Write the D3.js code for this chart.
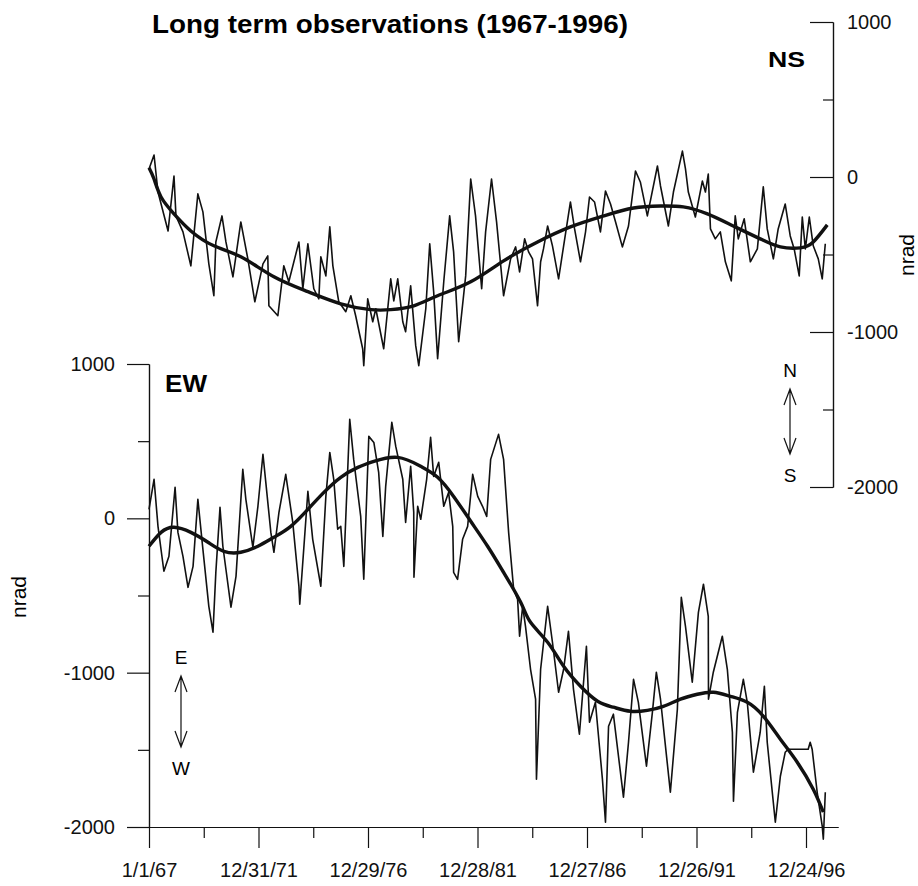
<!DOCTYPE html>
<html>
<head>
<meta charset="utf-8">
<script src="https://cdn.jsdelivr.net/npm/d3@7"></script>
<style>
  body { margin: 0; background: #fff; }
  svg { display: block; font-family: "Liberation Sans", Arial, sans-serif; }
  .axis path, .axis line { stroke: #111; stroke-width: 1.2; }
  .axis text { font-size: 20px; fill: #111; font-family: "Liberation Sans", Arial, sans-serif; }
  .raw { fill: none; stroke: #111; stroke-width: 1.6; stroke-linejoin: round; }
  .trend { fill: none; stroke: #111; stroke-width: 3.4; }
</style>
</head>
<body>
<svg width="918" height="886"></svg>
<script>
// NS tilt, raw record: [decimal year, nrad]
const nsRaw = [
  [1967.00,52],[1967.23,142],[1967.41,-97],[1967.87,-348],[1968.14,6],[1968.23,-251],[1968.55,-354],[1968.91,-573],
  [1969.23,-109],[1969.46,-225],[1969.73,-560],[1969.96,-766],[1970.05,-419],[1970.33,-251],[1970.51,-419],[1970.83,-644],
  [1971.19,-290],[1971.51,-528],[1971.83,-805],[1972.20,-560],[1972.42,-509],[1972.47,-831],[1972.88,-895],[1973.15,-573],
  [1973.38,-676],[1973.84,-419],[1974.02,-721],[1974.25,-431],[1974.52,-721],[1974.75,-786],[1974.84,-515],[1975.07,-638],
  [1975.25,-322],[1975.39,-573],[1975.66,-805],[1975.98,-869],[1976.21,-766],[1976.43,-895],[1976.75,-1108],[1976.80,-1217],
  [1976.98,-786],[1977.21,-934],[1977.35,-850],[1977.71,-1108],[1978.03,-657],[1978.17,-799],[1978.35,-657],[1978.58,-934],
  [1978.71,-998],[1978.94,-702],[1979.17,-1088],[1979.31,-1217],[1979.63,-850],[1979.81,-431],[1979.99,-741],[1980.17,-1172],
  [1980.45,-676],[1980.72,-251],[1980.90,-483],[1981.13,-1063],[1981.45,-638],[1981.68,-13],[1981.90,-251],[1982.18,-721],
  [1982.36,-354],[1982.63,-13],[1982.86,-290],[1983.18,-766],[1983.50,-528],[1983.73,-451],[1983.91,-612],[1984.14,-399],
  [1984.32,-483],[1984.50,-528],[1984.73,-831],[1984.87,-547],[1985.00,-464],[1985.19,-316],[1985.41,-444],[1985.69,-657],
  [1985.92,-444],[1986.23,-161],[1986.42,-335],[1986.69,-547],[1986.92,-354],[1987.10,-129],[1987.33,-161],[1987.60,-354],
  [1987.83,-90],[1988.06,-174],[1988.29,-290],[1988.60,-451],[1988.88,-316],[1989.20,39],[1989.42,-32],[1989.74,-251],
  [1990.20,71],[1990.34,-58],[1990.70,-316],[1990.93,-97],[1991.34,167],[1991.48,52],[1991.61,-97],[1991.93,-258],
  [1992.25,-26],[1992.39,-97],[1992.52,19],[1992.62,-335],[1992.84,-399],[1993.07,-354],[1993.30,-547],[1993.57,-670],
  [1993.75,-251],[1993.89,-399],[1994.16,-270],[1994.44,-547],[1994.76,-464],[1995.03,-64],[1995.21,-335],[1995.49,-528],
  [1995.71,-335],[1996.03,-174],[1996.26,-380],[1996.44,-464],[1996.67,-638],[1996.81,-258],[1996.95,-464],[1997.13,-258],
  [1997.31,-444],[1997.54,-528],[1997.72,-657],[1997.86,-431]
];

// NS tilt, smoothed trend
const nsTrend = [
  [1967.00,60],[1967.23,-13],[1967.55,-129],[1968.14,-238],[1968.91,-348],[1969.96,-444],[1971.19,-515],[1972.70,-644],
  [1974.25,-740],[1975.75,-818],[1977.12,-856],[1978.03,-856],[1979.08,-831],[1980.17,-766],[1981.68,-676],[1983.18,-541],
  [1984.73,-419],[1986.23,-322],[1987.74,-251],[1989.11,-200],[1990.34,-187],[1991.38,-193],[1992.48,-238],[1993.66,-316],
  [1994.89,-399],[1995.81,-451],[1996.72,-457],[1997.31,-419],[1997.95,-309]
];

// EW tilt, raw record
const ewRaw = [
  [1967.00,58],[1967.23,253],[1967.41,-52],[1967.68,-343],[1967.91,-246],[1968.19,201],[1968.32,-91],[1968.55,-246],
  [1968.78,-447],[1969.01,-311],[1969.23,123],[1969.46,-201],[1969.73,-570],[1969.92,-738],[1970.05,-350],[1970.24,71],
  [1970.37,-181],[1970.51,-330],[1970.74,-576],[1970.97,-376],[1971.28,317],[1971.42,123],[1971.74,-188],[1971.97,78],
  [1972.20,415],[1972.33,233],[1972.56,-91],[1972.70,-220],[1972.93,39],[1973.24,285],[1973.56,-26],[1973.84,-440],
  [1973.88,-557],[1974.25,175],[1974.47,-136],[1974.84,-440],[1975.07,142],[1975.25,427],[1975.43,253],[1975.61,-71],
  [1975.75,-52],[1975.89,-311],[1976.16,641],[1976.34,382],[1976.66,13],[1976.80,-395],[1977.03,531],[1977.26,492],
  [1977.48,298],[1977.67,-117],[1977.80,207],[1978.08,622],[1978.26,466],[1978.58,253],[1978.71,-26],[1978.94,337],
  [1979.08,39],[1979.09,-382],[1979.26,78],[1979.40,-6],[1979.67,253],[1979.85,525],[1979.99,272],[1980.22,363],
  [1980.45,78],[1980.67,168],[1980.86,-52],[1980.90,-350],[1981.08,-395],[1981.31,-136],[1981.54,-52],[1981.77,285],
  [1982.00,142],[1982.22,78],[1982.41,13],[1982.59,382],[1982.95,544],[1983.18,382],[1983.41,-91],[1983.64,-460],
  [1983.82,-525],[1983.91,-764],[1984.05,-570],[1984.18,-700],[1984.41,-978],[1984.64,-1172],[1984.68,-1690],[1984.87,-978],
  [1985.19,-570],[1985.41,-803],[1985.69,-1127],[1985.92,-978],[1986.14,-732],[1986.37,-1108],[1986.64,-1399],[1986.96,-829],
  [1987.10,-1321],[1987.37,-1192],[1987.69,-1690],[1987.83,-1969],[1987.97,-1347],[1988.19,-1269],[1988.65,-1807],[1988.88,-1451],
  [1989.11,-1043],[1989.33,-1192],[1989.70,-1606],[1989.97,-1257],[1990.15,-997],[1990.34,-1172],[1990.79,-1775],[1991.11,-1237],
  [1991.29,-512],[1991.48,-700],[1991.79,-1062],[1992.07,-609],[1992.30,-427],[1992.52,-635],[1992.53,-1172],[1992.75,-997],
  [1993.16,-764],[1993.39,-978],[1993.62,-1386],[1993.67,-1833],[1993.85,-1257],[1994.12,-1043],[1994.30,-1192],[1994.58,-1645],
  [1994.89,-1386],[1995.08,-1088],[1995.21,-1451],[1995.58,-1969],[1995.81,-1671],[1996.03,-1516],[1996.17,-1496],[1997.08,-1496],
  [1997.17,-1451],[1997.26,-1496],[1997.49,-1775],[1997.72,-1995],[1997.77,-2079],[1997.86,-1775]
];

// EW tilt, smoothed trend
const ewTrend = [
  [1967.00,-181],[1967.55,-91],[1968.14,-58],[1968.91,-91],[1969.69,-155],[1970.42,-214],[1971.19,-220],[1971.97,-181],
  [1972.70,-123],[1973.47,-52],[1974.25,58],[1974.98,168],[1975.75,266],[1976.53,330],[1977.26,369],[1978.35,395],
  [1979.40,337],[1980.17,266],[1980.90,142],[1981.68,-19],[1982.45,-181],[1983.18,-350],[1983.96,-544],[1984.41,-674],
  [1985.19,-803],[1985.92,-959],[1986.69,-1088],[1987.47,-1185],[1988.19,-1224],[1988.97,-1250],[1989.74,-1244],[1990.47,-1218],
  [1991.25,-1172],[1992.02,-1140],[1992.75,-1127],[1993.53,-1153],[1994.30,-1192],[1995.03,-1282],[1995.81,-1431],[1996.58,-1580],
  [1997.31,-1755],[1997.77,-1904]
];

// axis ticks
const yMajor = [-2000, -1000, 0, 1000];
const yMinor = [-1500, -500, 500];
const dateLabels = ['1/1/67', '12/31/71', '12/29/76', '12/28/81', '12/27/86', '12/26/91', '12/24/96'];

const svg = d3.select('svg');
const t0 = Date.UTC(1967, 0, 1);
const DAY = 864e5;
const toDate = yr => new Date(t0 + (yr - 1967) * 365.25 * DAY);

const x = d3.scaleUtc()
  .domain([new Date(t0), new Date(t0 + 6 * 1825 * DAY)])
  .range([149, 806]);
const xAxisScale = x.copy().domain([x.invert(149), x.invert(838)]).range([149, 838]);

const yNS = d3.scaleLinear().domain([-2000, 1000]).range([487, 22]);
const yEW = d3.scaleLinear().domain([-2000, 1000]).range([827, 364]);

const tickDates = d3.range(13).map(k => new Date(t0 + k * 912.5 * DAY));
const majorDates = tickDates.filter((d, i) => i % 2 == 0);
const minorDates = tickDates.filter((d, i) => i % 2 == 1);

// Bottom axis
svg.append('g')
  .attr('class', 'axis')
  .attr('transform', 'translate(0,827)')
  .call(d3.axisBottom(xAxisScale)
    .tickValues(majorDates)
    .tickSizeInner(21)
    .tickSizeOuter(0)
    .tickPadding(15)
    .tickFormat((d, i) => dateLabels[i]));

svg.append('g')
  .attr('class', 'axis')
  .attr('transform', 'translate(0,827)')
  .call(d3.axisBottom(xAxisScale)
    .tickValues(minorDates)
    .tickSizeInner(11)
    .tickSizeOuter(0)
    .tickFormat(''));

// Left axis (EW)
svg.append('g')
  .attr('class', 'axis')
  .attr('transform', 'translate(149,0)')
  .call(d3.axisLeft(yEW)
    .tickValues(yMajor)
    .tickSizeInner(22)
    .tickSizeOuter(0)
    .tickPadding(12)
    .tickFormat(d => String(d)));

svg.append('g')
  .attr('class', 'axis')
  .attr('transform', 'translate(149,0)')
  .call(d3.axisLeft(yEW)
    .tickValues(yMinor)
    .tickSizeInner(11)
    .tickSizeOuter(0)
    .tickFormat(''));

// Right axis (NS): ticks point inward, labels outside
svg.append('g')
  .attr('class', 'axis')
  .attr('transform', 'translate(833,0)')
  .call(d3.axisLeft(yNS)
    .tickValues(yMajor)
    .tickSizeInner(23)
    .tickSizeOuter(0)
    .tickFormat(''));

svg.append('g')
  .attr('class', 'axis')
  .attr('transform', 'translate(833,0)')
  .call(d3.axisLeft(yNS)
    .tickValues(yMinor)
    .tickSizeInner(10)
    .tickSizeOuter(0)
    .tickFormat(''));

svg.append('g')
  .attr('class', 'axis')
  .attr('transform', 'translate(833,0)')
  .call(d3.axisRight(yNS)
    .tickValues(yMajor)
    .tickSize(0)
    .tickPadding(14)
    .tickFormat(d => String(d)))
  .select('.domain').remove();

// Lines
const rawNS = d3.line().x(d => x(toDate(d[0]))).y(d => yNS(d[1]));
const rawEW = d3.line().x(d => x(toDate(d[0]))).y(d => yEW(d[1]));

svg.append('path').datum(nsRaw).attr('class', 'raw').attr('d', rawNS);
svg.append('path').datum(nsTrend).attr('class', 'trend').attr('d', rawNS.curve(d3.curveNatural));
svg.append('path').datum(ewRaw).attr('class', 'raw').attr('d', rawEW);
svg.append('path').datum(ewTrend).attr('class', 'trend').attr('d', rawEW.curve(d3.curveNatural));

// Titles and labels
svg.append('text')
  .attr('x', 152)
  .attr('y', 33)
  .attr('font-size', 25)
  .attr('font-weight', 'bold')
  .attr('textLength', 476)
  .attr('lengthAdjust', 'spacingAndGlyphs')
  .text('Long term observations (1967-1996)');

svg.append('text')
  .attr('x', 768).attr('y', 67)
  .attr('font-size', 22).attr('font-weight', 'bold')
  .attr('textLength', 37).attr('lengthAdjust', 'spacingAndGlyphs')
  .text('NS');

svg.append('text')
  .attr('x', 165).attr('y', 392)
  .attr('font-size', 23).attr('font-weight', 'bold')
  .attr('textLength', 42).attr('lengthAdjust', 'spacingAndGlyphs')
  .text('EW');

svg.append('text')
  .attr('transform', 'translate(26,597) rotate(-90)')
  .attr('text-anchor', 'middle')
  .attr('font-size', 21)
  .text('nrad');

svg.append('text')
  .attr('transform', 'translate(914,255) rotate(-90)')
  .attr('text-anchor', 'middle')
  .attr('font-size', 21)
  .text('nrad');

// Direction arrows
function arrow(cx, top, bottom, upLabel, downLabel) {
  const g = svg.append('g');
  g.append('text').attr('x', cx).attr('y', top - 12).attr('text-anchor', 'middle')
    .attr('font-size', 19).text(upLabel);
  g.append('text').attr('x', cx).attr('y', bottom + 28).attr('text-anchor', 'middle')
    .attr('font-size', 19).text(downLabel);
  g.append('path')
    .attr('d', `M${cx},${top}V${bottom}M${cx - 6},${top + 16}L${cx},${top}L${cx + 6},${top + 16}` +
               `M${cx - 6},${bottom - 16}L${cx},${bottom}L${cx + 6},${bottom - 16}`)
    .attr('fill', 'none')
    .attr('stroke', '#111')
    .attr('stroke-width', 1.2);
}
arrow(790, 389, 454, 'N', 'S');
arrow(181, 676, 747, 'E', 'W');
</script>
</body>
</html>
